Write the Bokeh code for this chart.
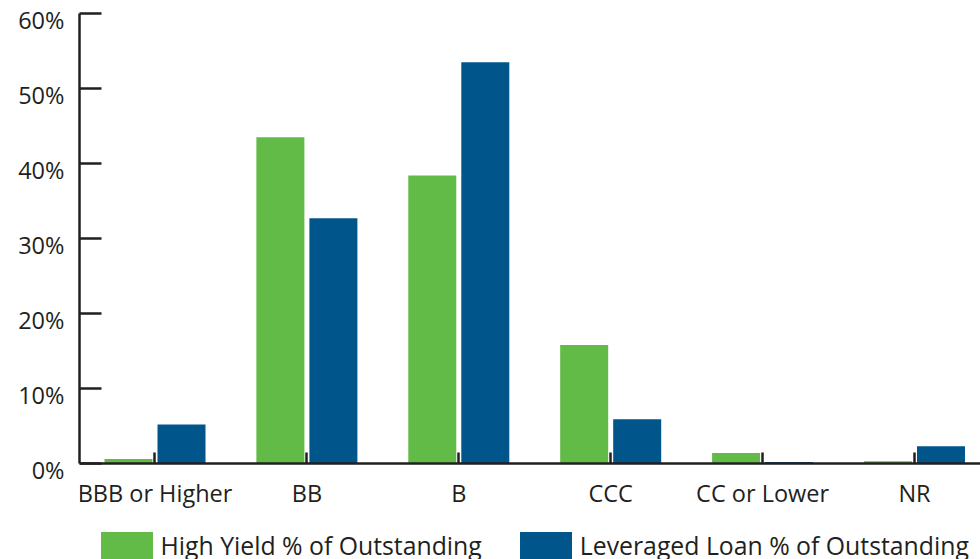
from bokeh.plotting import figure
from bokeh.models import (ColumnDataSource, Range1d, FixedTicker, PrintfTickFormatter,
                          Legend, LegendItem, LinearAxis)
from bokeh.transform import dodge
from bokeh.embed import file_html
from bokeh.resources import INLINE

# Rating buckets and share of outstanding (%) for each market
ratings = ["BBB or Higher", "BB", "B", "CCC", "CC or Lower", "NR"]
high_yield = [0.6, 43.5, 38.4, 15.8, 1.4, 0.3]
leveraged_loan = [5.2, 32.7, 53.5, 5.9, 0.2, 2.3]
y_ticks = [0, 10, 20, 30, 40, 50, 60]

GREEN = "#62bb46"
BLUE = "#00558b"
INK = "#231f20"
FONT = "Open Sans"

source = ColumnDataSource(dict(
    pos=list(range(len(ratings))),
    hy=high_yield,
    ll=leveraged_loan,
))

# The frame runs to the bottom edge; the space under zero holds the
# category labels and the legend.
p = figure(
    width=980, height=559,
    x_range=Range1d(-0.497, 5.4346),
    y_range=Range1d(-12.8, 60),
    output_backend="svg",
    toolbar_location=None,
    min_border_left=79, min_border_right=0,
    min_border_top=13, min_border_bottom=0,
)
p.outline_line_color = None
p.xgrid.grid_line_color = None
p.ygrid.grid_line_color = None
p.background_fill_color = "white"
p.border_fill_color = "white"

bar_w = 0.316
r_hy = p.vbar(x=dodge("pos", -0.1745), top="hy", bottom=0, width=bar_w,
              source=source, fill_color=GREEN, line_color=None)
r_ll = p.vbar(x=dodge("pos", 0.1745), top="ll", bottom=0, width=bar_w,
              source=source, fill_color=BLUE, line_color=None)

# x axis pinned at zero: one tick per rating bucket, pointing into the plot
xa = p.xaxis[0]
xa.fixed_location = 0
xa.ticker = FixedTicker(ticks=list(range(len(ratings))))
xa.major_label_overrides = {i: name for i, name in enumerate(ratings)}
xa.major_tick_in = 11
xa.major_tick_out = 0
xa.minor_tick_in = 0
xa.minor_tick_out = 0
xa.axis_line_color = INK
xa.axis_line_width = 2.5
xa.major_tick_line_color = INK
xa.major_tick_line_width = 2.5
xa.major_label_text_font = FONT
xa.major_label_text_font_size = "23.5px"
xa.major_label_text_color = INK
xa.major_label_standoff = 13

# y axis line and inward ticks (labels come from a second axis)
ya = p.yaxis[0]
ya.bounds = (0, 60)
ya.ticker = FixedTicker(ticks=y_ticks)
ya.major_label_overrides = {t: "" for t in y_ticks}
ya.major_tick_in = 22
ya.major_tick_out = 0
ya.minor_tick_in = 0
ya.minor_tick_out = 0
ya.axis_line_color = INK
ya.axis_line_width = 2.5
ya.major_tick_line_color = INK
ya.major_tick_line_width = 2.5
ya.major_label_standoff = 0

# percentage labels, set slightly below their ticks
p.extra_y_ranges = {"labels": Range1d(-12.8 + 0.93, 60.93)}
ylab = LinearAxis(
    y_range_name="labels",
    bounds=(0, 60),
    ticker=FixedTicker(ticks=y_ticks),
    formatter=PrintfTickFormatter(format="%d%%"),
    axis_line_color=None,
    major_tick_line_color=None,
    minor_tick_line_color=None,
    major_tick_in=0, major_tick_out=0,
    minor_tick_in=0, minor_tick_out=0,
    major_label_text_font=FONT,
    major_label_text_font_size="23.5px",
    major_label_text_color=INK,
    major_label_standoff=15,
)
p.add_layout(ylab, "left")

legend = Legend(
    items=[
        LegendItem(label="High Yield % of Outstanding", renderers=[r_hy]),
        LegendItem(label="Leveraged Loan % of Outstanding", renderers=[r_ll]),
    ],
    orientation="horizontal",
    location=(14.5, -3.5),
    glyph_width=65, glyph_height=35,
    label_standoff=2, spacing=31,
    padding=0, margin=0,
    border_line_color=None,
    background_fill_alpha=0,
    label_text_font=FONT,
    label_text_font_size="24.8px",
    label_text_color=INK,
)
p.add_layout(legend, "center")

open("out.html", "w").write(file_html(p, INLINE))
